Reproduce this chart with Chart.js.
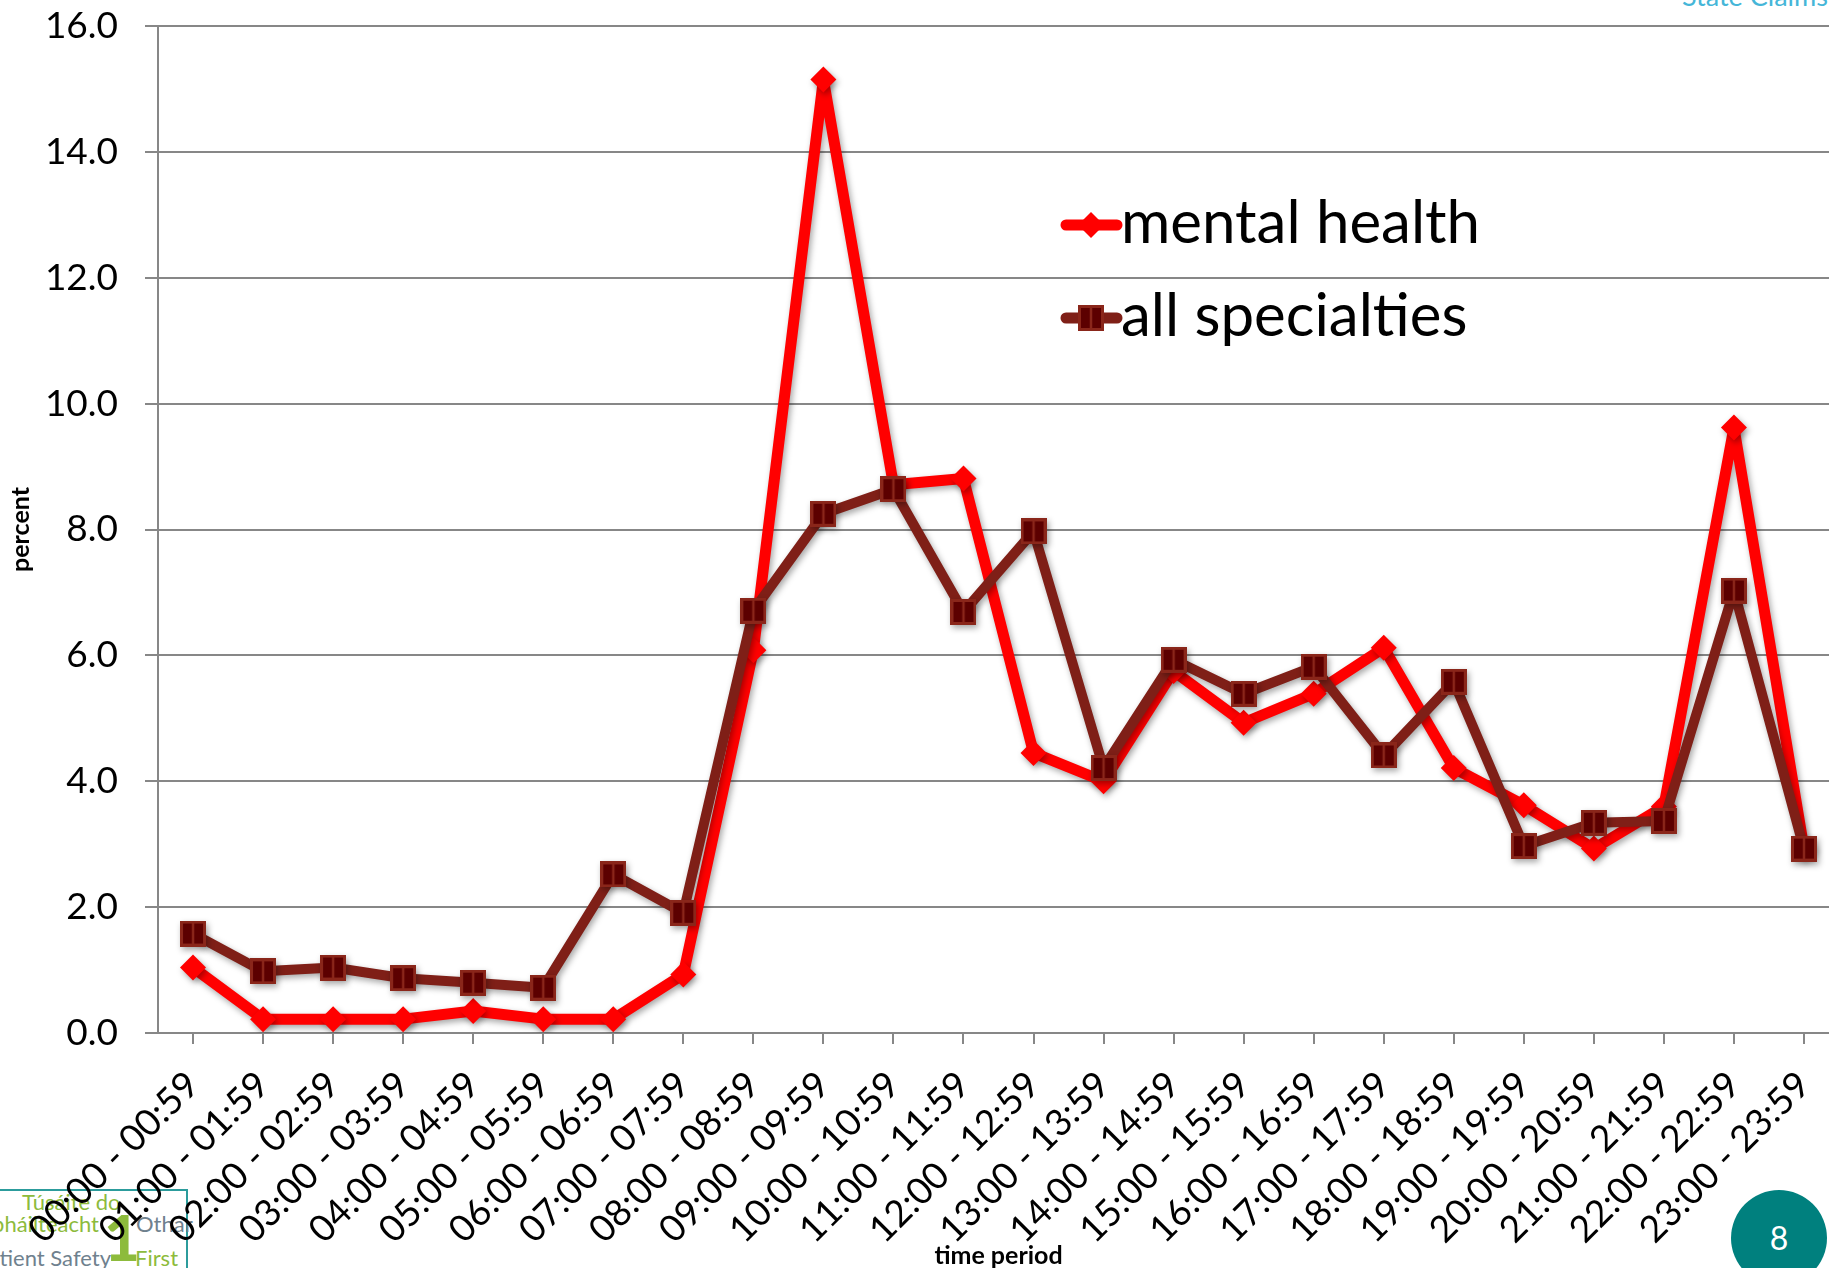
<!DOCTYPE html>
<html>
<head>
<meta charset="utf-8">
<title>Incidents by time period</title>
<script src="https://cdn.jsdelivr.net/npm/chart.js@4.4.0/dist/chart.umd.min.js"></script>
<style>
  html, body { margin: 0; padding: 0; background: #fff; }
  body { width: 1829px; height: 1268px; position: relative; overflow: hidden; font-family: Lato, sans-serif; }
  #chartBox { position: absolute; left: 0; top: 0; z-index: 2; }
  #logo { position: absolute; left: -70px; top: 1189px; width: 254px; height: 110px; border: 2px solid #2c9c9c; background: #fff; z-index: 1; }
  .lg { position: absolute; font-size: 22px; white-space: nowrap; z-index: 1; line-height: 1; }
  .green { color: #8dbb3c; }
  .grey { color: #6f818e; }
  #agency { position: absolute; left: 1682px; top: -21px; font-size: 27px; color: #45b6d8; white-space: nowrap; }
  #slideNo { position: absolute; left: 1731px; top: 1190px; width: 96px; height: 96px; border-radius: 50%;
             background: #00807e; color: #fff; font-size: 32px; text-align: center; line-height: 96px; z-index: 3; }
</style>
</head>
<body>
<div id="agency">State Claims Agency</div>
<div id="logo"></div>
<div class="lg green" style="left:22px; top:1191px;">Túsáite do</div>
<div class="lg green" style="right:1730px; top:1213px;">Sábháilteacht</div>
<div class="lg grey" style="left:136px; top:1213px;">Othar</div>
<div class="lg grey" style="right:1718px; top:1247px;">Patient Safety</div>
<div class="lg green" style="left:135px; top:1247px;">First</div>
<div class="lg green" style="left:104px; top:1206px; font-size:62px; font-weight:900;">1</div>
<div id="slideNo">8</div>
<div id="chartBox"><canvas id="timeChart" width="1862" height="1268"></canvas></div>
<script>
// hourly periods
const periods = [
  '00:00 - 00:59', '01:00 - 01:59', '02:00 - 02:59', '03:00 - 03:59',
  '04:00 - 04:59', '05:00 - 05:59', '06:00 - 06:59', '07:00 - 07:59',
  '08:00 - 08:59', '09:00 - 09:59', '10:00 - 10:59', '11:00 - 11:59',
  '12:00 - 12:59', '13:00 - 13:59', '14:00 - 14:59', '15:00 - 15:59',
  '16:00 - 16:59', '17:00 - 17:59', '18:00 - 18:59', '19:00 - 19:59',
  '20:00 - 20:59', '21:00 - 21:59', '22:00 - 22:59', '23:00 - 23:59'
];

// percent of incidents per period
const mentalHealth = [
  1.04, 0.22, 0.22, 0.22, 0.35, 0.22, 0.22, 0.93,
  6.08, 15.15, 8.71, 8.81, 4.45, 4.00, 5.75, 4.93,
  5.39, 6.12, 4.21, 3.62, 2.93, 3.60, 9.62, 2.93
];
const allSpecialties = [
  1.58, 0.98, 1.04, 0.87, 0.80, 0.72, 2.52, 1.91,
  6.71, 8.25, 8.64, 6.69, 7.97, 4.21, 5.93, 5.39,
  5.82, 4.41, 5.58, 2.97, 3.34, 3.37, 7.03, 2.93
];

const yTicks = [0, 2, 4, 6, 8, 10, 12, 14, 16];

const RED = '#ff0000';
const BROWN = '#7f1f17';
const GRID = '#878787';
const FONT = 'Lato, sans-serif';

// square marker with a split in the middle
function squareMarker(size) {
  const c = document.createElement('canvas');
  c.width = size; c.height = size;
  const g = c.getContext('2d');
  g.fillStyle = '#5c0000';
  g.fillRect(0, 0, size, size);
  g.strokeStyle = '#8a261a';
  g.lineWidth = 3;
  g.strokeRect(1.5, 1.5, size - 3, size - 3);
  g.lineWidth = 2.5;
  g.beginPath();
  g.moveTo(size / 2, 2);
  g.lineTo(size / 2, size - 2);
  g.stroke();
  return c;
}
const squareImg = squareMarker(26);

const markerShadow = {
  id: 'markerShadow',
  beforeDatasetsDraw(chart) {
    const ctx = chart.ctx;
    ctx.save();
    ctx.shadowColor = 'rgba(0,0,0,0.35)';
    ctx.shadowBlur = 6;
    ctx.shadowOffsetX = 2;
    ctx.shadowOffsetY = 3;
  },
  afterDatasetsDraw(chart) {
    chart.ctx.restore();
  }
};

// legend sits inside the plot, drawn by hand
const insideLegend = {
  id: 'insideLegend',
  afterDraw(chart) {
    const ctx = chart.ctx;
    const items = [
      { text: 'mental health', color: RED, width: 11, style: 'rectRot', radius: 13, y: 225 },
      { text: 'all specialties', color: BROWN, width: 11, style: squareImg, radius: 13, y: 318 }
    ];
    ctx.save();
    items.forEach(it => {
      ctx.strokeStyle = it.color;
      ctx.lineWidth = it.width;
      ctx.lineCap = 'round';
      ctx.beginPath();
      ctx.moveTo(1066, it.y);
      ctx.lineTo(1117, it.y);
      ctx.stroke();
      ctx.fillStyle = it.color;
      Chart.helpers.drawPoint(ctx, { pointStyle: it.style, radius: it.radius, rotation: 0, borderWidth: 0 }, 1091, it.y);
      ctx.fillStyle = '#000';
      ctx.font = '60px ' + FONT;
      ctx.textBaseline = 'alphabetic';
      ctx.textAlign = 'left';
      ctx.fillText(it.text, 1121, it.y + 18);
    });
    ctx.restore();
  }
};

new Chart(document.getElementById('timeChart'), {
  type: 'line',
  data: {
    labels: periods,
    datasets: [
      {
        label: 'all specialties',
        data: allSpecialties,
        borderColor: BROWN,
        borderWidth: 10,
        borderJoinStyle: 'round',
        borderCapStyle: 'round',
        pointStyle: squareImg,
        pointRadius: 13,
        tension: 0,
        order: 0
      },
      {
        label: 'mental health',
        data: mentalHealth,
        borderColor: RED,
        borderWidth: 11,
        borderJoinStyle: 'round',
        borderCapStyle: 'round',
        pointStyle: 'rectRot',
        pointRadius: 13,
        pointBackgroundColor: RED,
        pointBorderWidth: 0,
        tension: 0,
        order: 1
      }
    ]
  },
  options: {
    responsive: false,
    animation: false,
    devicePixelRatio: 1,
    layout: { padding: { left: 0, top: 26, right: 14, bottom: 0 } },
    plugins: {
      legend: { display: false },
      tooltip: { enabled: false }
    },
    scales: {
      x: {
        offset: true,
        grid: { drawOnChartArea: false, drawTicks: true, tickLength: 11, color: GRID, lineWidth: 2 },
        border: { display: true, color: GRID, width: 2 },
        ticks: {
          autoSkip: false,
          minRotation: 45,
          maxRotation: 45,
          padding: 19,
          labelOffset: 0,
          color: '#000',
          font: { family: FONT, size: 37 }
        },
        title: {
          display: true,
          text: 'time period',
          color: '#000',
          font: { family: FONT, size: 25, weight: 'bold', lineHeight: 1 },
          padding: { top: 0, bottom: 0 }
        },
        afterFit(scale) {
          scale.height = 235;
          scale.paddingLeft = 0;
          scale.paddingRight = 0;
        }
      },
      y: {
        min: 0,
        max: 16,
        afterBuildTicks(scale) {
          scale.ticks = yTicks.map(v => ({ value: v }));
        },
        grid: { color: GRID, lineWidth: 2, tickLength: 13 },
        border: { display: true, color: GRID, width: 2 },
        ticks: {
          padding: 27,
          color: '#000',
          font: { family: FONT, size: 37 },
          callback: v => v.toFixed(1)
        },
        title: {
          display: true,
          text: 'percent',
          color: '#000',
          font: { family: FONT, size: 25, weight: 'bold', lineHeight: 1 },
          padding: { top: 8, bottom: 0 }
        },
        afterFit(scale) {
          scale.width = 158;
          scale.paddingTop = 0;
          scale.paddingBottom = 0;
        }
      }
    }
  },
  plugins: [markerShadow, insideLegend]
});
</script>
</body>
</html>
